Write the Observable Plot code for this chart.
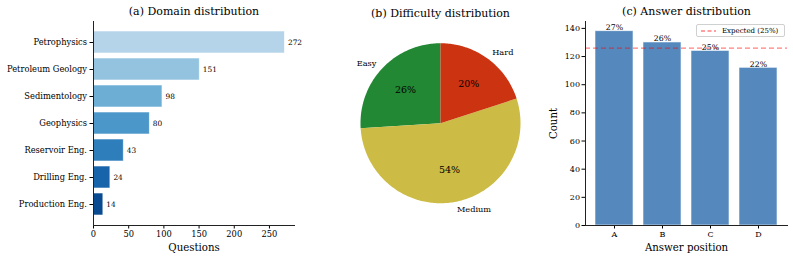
<!DOCTYPE html>
<html>
<head>
<meta charset="utf-8">
<script src="https://cdn.jsdelivr.net/npm/d3@7"></script>
<script src="https://cdn.jsdelivr.net/npm/@observablehq/plot@0.6"></script>
<style>
  body { margin: 0; background: #fff; }
  #fig { position: relative; width: 793px; height: 260px; font-family: "DejaVu Serif", serif; color: #000; }
  .panel { position: absolute; top: 0; }
  .panel svg text { font-family: "DejaVu Serif", serif; }
  #legend { position: absolute; left: 696px; top: 24px; width: 87px; height: 11px; border: 1px solid #d0d0d0; border-radius: 2px; background: rgba(255,255,255,0.85); font-size: 7px; display: flex; align-items: center; }
</style>
</head>
<body>
<div id="fig">
  <div class="panel" id="pa" style="left:0px"></div>
  <div class="panel" id="pb" style="left:330px"></div>
  <div class="panel" id="pc" style="left:530px"></div>
  <div id="legend"><svg width="22" height="10"><line x1="4" x2="19" y1="5" y2="5" stroke="red" stroke-opacity="0.5" stroke-width="1.3" stroke-dasharray="4,2.5"></line></svg><span style="margin-left:3px">Expected (25%)</span></div>
</div>
<script>
// ---------- data ----------
const domains = ["Petrophysics", "Petroleum Geology", "Sedimentology", "Geophysics", "Reservoir Eng.", "Drilling Eng.", "Production Eng."];
const domainCounts = [272, 151, 98, 80, 43, 24, 14];
const domainTicks = [0, 50, 100, 150, 200, 250];

const difficulties = ["Easy", "Medium", "Hard"];
const difficultyShares = [26, 54, 20];
const difficultyColors = ["#228833", "#CCBB44", "#CC3311"];

const answerPositions = ["A", "B", "C", "D"];
const answerCounts = [138, 130, 124, 112];
const answerPercents = ["27%", "26%", "25%", "22%"];
const expectedCount = 126;
const countTicks = [0, 20, 40, 60, 80, 100, 120, 140];

const titles = ["(a) Domain distribution", "(b) Difficulty distribution", "(c) Answer distribution"];

// ---------- shared style ----------
const serif = "DejaVu Serif";
const baseStyle = {fontFamily: serif, fontSize: "8.3px", color: "#000", background: "transparent", overflow: "visible"};
const spine = {stroke: "#222", strokeWidth: 1};

// ---------- panel (a) ----------
const blues = domains.map((d, i) => d3.interpolateBlues(0.3 + 0.1 * i));
const domainData = domains.map((d, i) => ({domain: d, count: domainCounts[i], color: blues[i]}));
const pa = Plot.plot({
  width: 300, height: 260,
  marginLeft: 93, marginRight: 6, marginTop: 21, marginBottom: 35,
  style: baseStyle,
  x: {domain: [0, 285.6]},
  y: {domain: domains, paddingInner: 0.2, paddingOuter: 0.34},
  color: {type: "identity"},
  marks: [
    Plot.barX(domainData, {x: "count", y: "domain", fill: "color", stroke: "white", strokeWidth: 0.8, strokeOpacity: 0.7}),
    Plot.text(domainData, {x: "count", y: "domain", text: d => String(d.count), dx: 3, textAnchor: "start", fontSize: 7.4, fontFamily: serif}),
    Plot.axisX({ticks: domainTicks, tickSize: 3.5, tickPadding: 2, label: null, fontSize: 8.3, fontFamily: serif}),
    Plot.axisY({tickSize: 3.5, tickPadding: 3, label: null, fontSize: 8.3, fontFamily: serif}),
    Plot.frame({anchor: "left", ...spine}),
    Plot.frame({anchor: "bottom", ...spine}),
    Plot.text(["Questions"], {text: d => d, frameAnchor: "bottom", lineAnchor: "middle", dy: 22.5, fontSize: 10.2, fontFamily: serif}),
    Plot.text([titles[0]], {text: d => d, frameAnchor: "top", lineAnchor: "middle", dy: -10.5, fontSize: 11, fontFamily: serif})
  ]
});
document.getElementById("pa").append(pa);

// ---------- panel (b) ----------
const slicePts = [];
const sliceLabels = [];
let acc = 0;
difficulties.forEach((name, i) => {
  const share = difficultyShares[i];
  const a0 = Math.PI / 2 + acc / 100 * 2 * Math.PI;
  const a1 = Math.PI / 2 + (acc + share) / 100 * 2 * Math.PI;
  acc += share;
  const color = difficultyColors[i];
  slicePts.push({name, x: 0, y: 0, color});
  const n = Math.max(2, Math.ceil(share * 3.6));
  for (let k = 0; k <= n; k++) {
    const t = a0 + (a1 - a0) * k / n;
    slicePts.push({name, x: Math.cos(t), y: Math.sin(t), color});
  }
  slicePts.push({name, x: 0, y: 0, color});
  const m = (a0 + a1) / 2;
  sliceLabels.push({name, pct: share + "%", lx: 1.1 * Math.cos(m), ly: 1.1 * Math.sin(m), px: 0.6 * Math.cos(m), py: 0.6 * Math.sin(m)});
});
const pb = Plot.plot({
  width: 220, height: 260,
  margin: 0,
  style: baseStyle,
  x: {domain: [-1.375, 1.375], axis: null},
  y: {domain: [-1.716, 1.534], axis: null},
  color: {type: "identity"},
  marks: [
    Plot.line(slicePts, {x: "x", y: "y", z: "name", fill: "color", stroke: "none"}),
    Plot.text(sliceLabels.filter(d => d.lx > 0), {x: "lx", y: "ly", text: "name", textAnchor: "start", fontSize: 8.2, fontFamily: serif}),
    Plot.text(sliceLabels.filter(d => d.lx <= 0), {x: "lx", y: "ly", text: "name", textAnchor: "end", fontSize: 8.2, fontFamily: serif}),
    Plot.text(sliceLabels, {x: "px", y: "py", text: "pct", fontSize: 9.5, fontFamily: serif}),
    Plot.text([titles[1]], {text: d => d, frameAnchor: "top", lineAnchor: "middle", dy: 13.2, fontSize: 11, fontFamily: serif})
  ]
});
document.getElementById("pb").append(pb);

// ---------- panel (c) ----------
const answerData = answerPositions.map((p, i) => ({pos: p, count: answerCounts[i], pct: answerPercents[i]}));
const pc = Plot.plot({
  width: 263, height: 260,
  marginLeft: 55, marginRight: 6, marginTop: 21, marginBottom: 35,
  style: baseStyle,
  x: {domain: answerPositions, paddingInner: 0.2, paddingOuter: 0.19},
  y: {domain: [0, 144.9]},
  marks: [
    Plot.barY(answerData, {x: "pos", y: "count", fill: "#5589bd", stroke: "white", strokeWidth: 0.8, strokeOpacity: 0.7}),
    Plot.ruleY([expectedCount], {stroke: "red", strokeOpacity: 0.5, strokeWidth: 1.3, strokeDasharray: "5,3"}),
    Plot.text(answerData, {x: "pos", y: "count", text: "pct", dy: -1, lineAnchor: "bottom", fontSize: 7.8, fontFamily: serif}),
    Plot.axisX({tickSize: 3.5, tickPadding: 2, label: null, fontSize: 8, fontFamily: serif}),
    Plot.axisY({ticks: countTicks, tickSize: 3.5, tickPadding: 2, label: null, fontSize: 8, fontFamily: serif}),
    Plot.frame({anchor: "left", ...spine}),
    Plot.frame({anchor: "bottom", ...spine}),
    Plot.text(["Answer position"], {text: d => d, frameAnchor: "bottom", lineAnchor: "middle", dy: 22.5, fontSize: 10.2, fontFamily: serif}),
    Plot.text(["Count"], {text: d => d, frameAnchor: "left", textAnchor: "middle", lineAnchor: "middle", dx: -32, rotate: -90, fontSize: 10.2, fontFamily: serif}),
    Plot.text([titles[2]], {text: d => d, frameAnchor: "top", lineAnchor: "middle", dy: -10.5, fontSize: 11, fontFamily: serif})
  ]
});
document.getElementById("pc").append(pc);
</script>
</body>
</html>
